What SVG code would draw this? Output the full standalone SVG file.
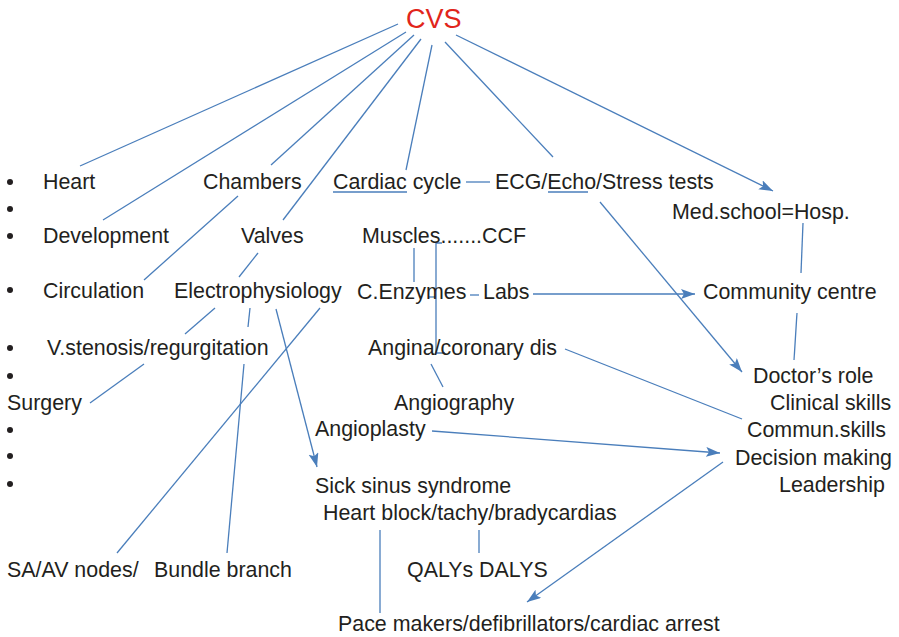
<svg xmlns="http://www.w3.org/2000/svg" width="899" height="637" viewBox="0 0 899 637">
<style>
text{font-family:"Liberation Sans",Arial,sans-serif;font-size:21.4px;fill:#231f20}
.title{font-size:27px;fill:#e1251b}
.c line,.c path{stroke:#4a7ebb;stroke-width:1.3;fill:none}
.b{fill:#231f20}
</style>
<defs>
<marker id="ah" markerUnits="userSpaceOnUse" markerWidth="16" markerHeight="12" refX="14" refY="5" orient="auto">
<path d="M0,0 L14,5 L0,10 L3,5 z" fill="#4a7ebb"/>
</marker>
</defs>
<rect width="899" height="637" fill="#ffffff"/>
<g id="connectors" class="c">
<line x1="398" y1="24" x2="80" y2="166"/>
<line x1="406" y1="32" x2="103" y2="220"/>
<line x1="414" y1="35" x2="271" y2="165"/>
<line x1="421" y1="39" x2="283" y2="220"/>
<line x1="432" y1="45" x2="406" y2="170"/>
<line x1="445" y1="42" x2="553" y2="157"/>
<line x1="456" y1="35" x2="773" y2="191" marker-end="url(#ah)"/>
<line x1="238" y1="196" x2="144" y2="280"/>
<line x1="258" y1="253" x2="239" y2="277"/>
<line x1="215" y1="308" x2="185" y2="334"/>
<line x1="250" y1="308" x2="248" y2="327"/>
<line x1="244" y1="364" x2="227" y2="553"/>
<line x1="320" y1="308" x2="117" y2="553"/>
<line x1="276" y1="309" x2="317" y2="467" marker-end="url(#ah)"/>
<line x1="144" y1="364" x2="90" y2="403"/>
<line x1="466" y1="182" x2="490" y2="182"/>
<line x1="333" y1="192" x2="407" y2="192"/>
<line x1="548" y1="192" x2="588" y2="192"/>
<line x1="600" y1="202" x2="742" y2="372" marker-end="url(#ah)"/>
<line x1="803" y1="223" x2="801" y2="273"/>
<line x1="797" y1="313" x2="794" y2="360"/>
<line x1="533" y1="294" x2="695" y2="294" marker-end="url(#ah)"/>
<line x1="470" y1="295" x2="479" y2="295"/>
<line x1="414" y1="248" x2="414" y2="282"/>
<path d="M442,243 L436,243 L436,353 L445,353"/>
<line x1="429" y1="297" x2="436" y2="297"/>
<line x1="431" y1="364" x2="443" y2="387"/>
<line x1="565" y1="349" x2="742" y2="419"/>
<line x1="432" y1="431" x2="720" y2="453" marker-end="url(#ah)"/>
<line x1="723" y1="462" x2="527" y2="602" marker-end="url(#ah)"/>
<line x1="380" y1="530" x2="380" y2="613"/>
<line x1="479" y1="530" x2="479" y2="553"/>
</g>
<g id="bullets">
<circle class="b" cx="10" cy="182" r="3"/>
<circle class="b" cx="10" cy="209" r="3"/>
<circle class="b" cx="10" cy="236" r="3"/>
<circle class="b" cx="10" cy="290" r="3"/>
<circle class="b" cx="10" cy="348" r="3"/>
<circle class="b" cx="10" cy="376" r="3"/>
<circle class="b" cx="10" cy="430" r="3"/>
<circle class="b" cx="10" cy="456" r="3"/>
<circle class="b" cx="10" cy="484" r="3"/>
</g>
<g id="cvs"><text class="title" x="406" y="28">CVS</text></g>
<g id="heart"><text x="43" y="189">Heart</text></g>
<g id="chambers"><text x="203" y="189">Chambers</text></g>
<g id="cardiac-cycle"><text x="333" y="189">Cardiac cycle</text></g>
<g id="ecg"><text x="495" y="189">ECG/Echo/Stress tests</text></g>
<g id="medschool"><text x="672" y="219">Med.school=Hosp.</text></g>
<g id="development"><text x="43" y="243">Development</text></g>
<g id="valves"><text x="241" y="243">Valves</text></g>
<g id="muscles"><text x="362" y="243">Muscles.......CCF</text></g>
<g id="circulation"><text x="43" y="298">Circulation</text></g>
<g id="electrophysiology"><text x="174" y="298">Electrophysiology</text></g>
<g id="enzymes"><text x="357" y="299">C.Enzymes</text></g>
<g id="labs"><text x="483" y="299">Labs</text></g>
<g id="community"><text x="703" y="299">Community centre</text></g>
<g id="vstenosis"><text x="47" y="355">V.stenosis/regurgitation</text></g>
<g id="angina"><text x="368" y="355">Angina/coronary dis</text></g>
<g id="doctors-role"><text x="753" y="383">Doctor’s role</text></g>
<g id="surgery"><text x="7" y="410">Surgery</text></g>
<g id="angiography"><text x="394" y="410">Angiography</text></g>
<g id="clinical"><text x="770" y="410">Clinical skills</text></g>
<g id="angioplasty"><text x="315" y="436">Angioplasty</text></g>
<g id="commun"><text x="747" y="437">Commun.skills</text></g>
<g id="decision"><text x="735" y="465">Decision making</text></g>
<g id="sick-sinus"><text x="315" y="493">Sick sinus syndrome</text></g>
<g id="leadership"><text x="779" y="492">Leadership</text></g>
<g id="heart-block"><text x="323" y="520">Heart block/tachy/bradycardias</text></g>
<g id="sa-av"><text x="7" y="577">SA/AV nodes/</text></g>
<g id="bundle"><text x="154" y="577">Bundle branch</text></g>
<g id="qalys"><text x="407" y="577">QALYs DALYS</text></g>
<g id="pacemakers"><text x="338" y="631">Pace makers/defibrillators/cardiac arrest</text></g>
</svg>
